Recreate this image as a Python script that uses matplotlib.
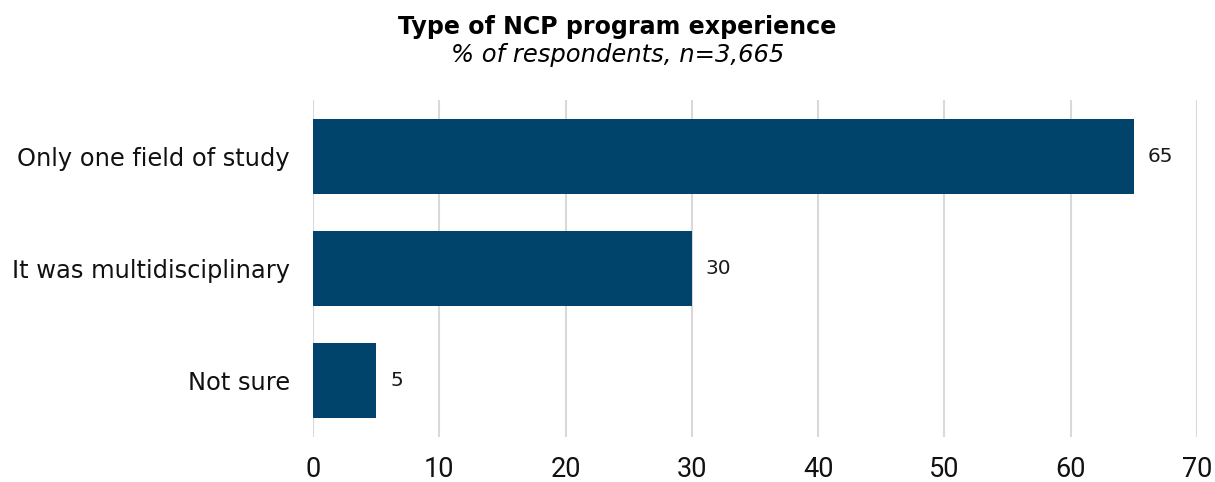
import matplotlib.pyplot as plt
from matplotlib import font_manager

categories = ["Only one field of study", "It was multidisciplinary", "Not sure"]
values = [65, 30, 5]
xticks = [0, 10, 20, 30, 40, 50, 60, 70]

BAR_COLOR = "#00436b"
GRID_COLOR = "#d9d9d9"

# narrow face for the axis numbers, if present
names = {f.name for f in font_manager.fontManager.ttflist}
if "DejaVu Sans Condensed" in names:
    tick_font = "DejaVu Sans Condensed"
elif "Liberation Sans Narrow" in names:
    tick_font = "Liberation Sans Narrow"
else:
    tick_font = "Roboto"

fig = plt.figure(figsize=(12.15, 4.82), dpi=100)
ax = fig.add_axes([0.2576, 0.0934, 0.7276, 0.6991])

ypos = list(range(len(categories)))
ax.barh(ypos, values, height=0.667, color=BAR_COLOR, zorder=2)

for y, v in zip(ypos, values):
    ax.text(v + 1.1, y, f"{v}", va="center", ha="left", fontsize=14.5,
            color="#1a1a1a", family="DejaVu Sans")

ax.set_xlim(0, 70)
ax.set_ylim(2.5, -0.5)
ax.set_xticks(xticks)
ax.set_xticklabels([str(t) for t in xticks], family=tick_font, fontsize=19.5)
ax.set_yticks(ypos)
ax.set_yticklabels(categories, fontsize=17.4, family="DejaVu Sans")
ax.tick_params(axis="both", length=0, colors="#111111")
ax.tick_params(axis="x", pad=14)
ax.tick_params(axis="y", pad=16.5)

ax.xaxis.grid(True, color=GRID_COLOR, linewidth=1.5, zorder=0)
ax.yaxis.grid(False)
for s in ax.spines.values():
    s.set_visible(False)

fig.text(0.508, 0.944, "Type of NCP program experience", ha="center", va="center",
         fontsize=17.1, fontweight="bold", family="DejaVu Sans")
fig.text(0.508, 0.886, "% of respondents, n=3,665", ha="center", va="center",
         fontsize=17.5, style="italic", family="DejaVu Sans")

fig.savefig("out.png", dpi=100)
